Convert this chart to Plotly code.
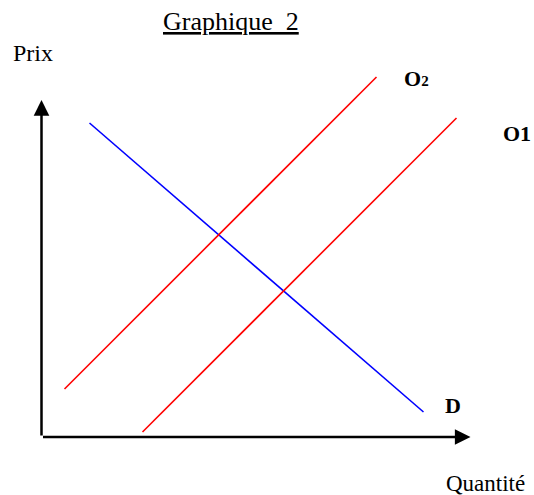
import plotly.graph_objects as go

# Data (quantity, price) in chart units; origin at the corner of the axes
demand_q = [4.8, 38.2]
demand_p = [31.4, 2.5]
supply2_q = [2.3, 33.5]
supply2_p = [4.8, 36.0]
supply1_q = [10.1, 41.5]
supply1_p = [0.5, 31.9]
axis_x_max = 42.9
axis_y_max = 33.7

FONT = "Liberation Serif"

fig = go.Figure()
fig.add_trace(go.Scatter(x=demand_q, y=demand_p, mode="lines",
                         line=dict(color="#0000FF", width=1.6), hoverinfo="skip"))
fig.add_trace(go.Scatter(x=supply2_q, y=supply2_p, mode="lines",
                         line=dict(color="#FF0000", width=1.6), hoverinfo="skip"))
fig.add_trace(go.Scatter(x=supply1_q, y=supply1_p, mode="lines",
                         line=dict(color="#FF0000", width=1.6), hoverinfo="skip"))

# Axes with arrowheads
for (x0, y0, x1, y1) in [(0, 0, 0, axis_y_max), (0, 0, axis_x_max, 0)]:
    fig.add_annotation(x=x1, y=y1, ax=x0, ay=y0, xref="x", yref="y",
                       axref="x", ayref="y", text="", showarrow=True,
                       arrowhead=2, arrowsize=1.25, arrowwidth=2.5,
                       arrowcolor="black")

labels = [
    (37.5, 35.9, "<b>O<span style='font-size:15px'>2</span></b>", 22),
    (47.5, 30.4, "<b>O1</b>", 22),
    (41.1, 3.2, "<b>D</b>", 22),
    (44.4, -4.65, "Quantité", 23),
    (-0.85, 38.4, "Prix", 24),
]
for x, y, t, s in labels:
    fig.add_annotation(x=x, y=y, xref="x", yref="y", text=t, showarrow=False,
                       xanchor="center", yanchor="middle",
                       font=dict(family=FONT, size=s, color="black"))

fig.add_annotation(x=231 / 534, y=1 - 21 / 495, xref="paper", yref="paper",
                   text="<u>Graphique\u00a0\u00a02</u>", showarrow=False,
                   xanchor="center", yanchor="middle",
                   font=dict(family=FONT, size=26, color="black"))

fig.update_layout(
    width=534, height=495,
    margin=dict(l=0, r=0, t=0, b=0),
    paper_bgcolor="white", plot_bgcolor="white",
    showlegend=False,
    xaxis=dict(range=[-4.15, 49.25], visible=False, fixedrange=True),
    yaxis=dict(range=[-5.8, 43.7], visible=False, fixedrange=True),
)
fig.write_html("out.html", config={"displayModeBar": False},
               post_script="document.body.style.margin='0';")
